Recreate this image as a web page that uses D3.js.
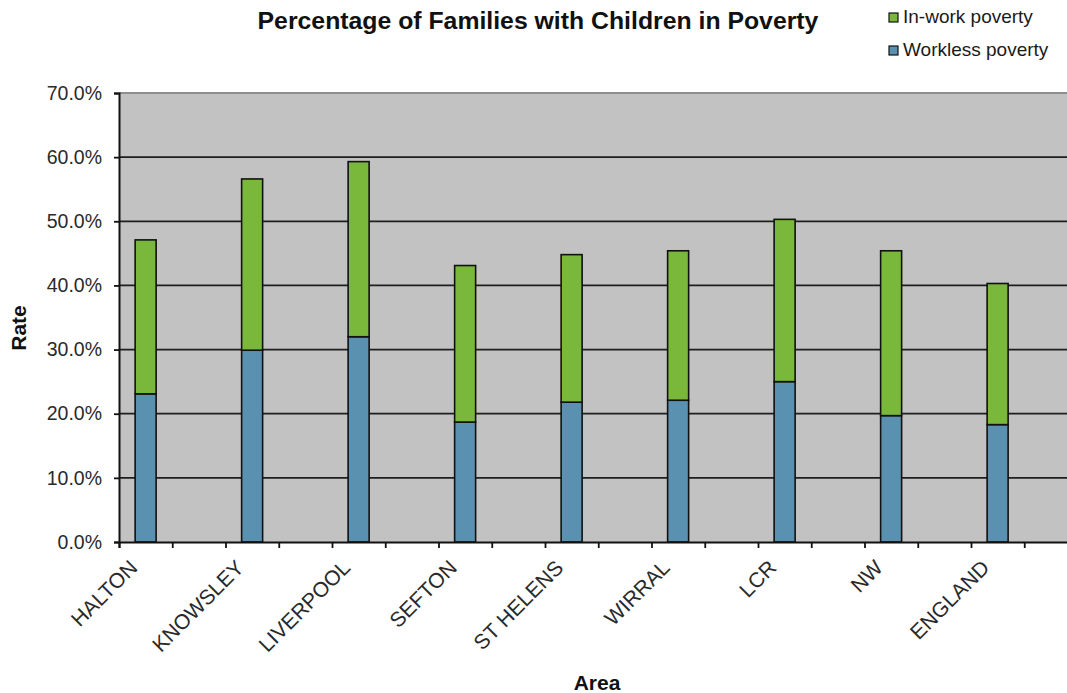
<!DOCTYPE html>
<html>
<head>
<meta charset="utf-8">
<script src="https://cdn.jsdelivr.net/npm/d3@7"></script>
<style>
  html, body { margin: 0; padding: 0; background: #fff; }
  svg { display: block; font-family: "Liberation Sans", Arial, Helvetica, sans-serif; }
</style>
</head>
<body>
<svg id="chart" width="1067" height="693"></svg>
<script>
// Areas along the x axis
const categories = ["HALTON", "KNOWSLEY", "LIVERPOOL", "SEFTON", "ST HELENS", "WIRRAL", "LCR", "NW", "ENGLAND"];
// Share of families with children in poverty (%), by type
const worklessPoverty = [23.1, 29.9, 32.0, 18.7, 21.8, 22.1, 25.0, 19.7, 18.3];
const inWorkPoverty   = [24.0, 26.7, 27.3, 24.4, 23.0, 23.3, 25.3, 25.7, 22.0];
// Y axis ticks (%)
const yTicks = [0, 10, 20, 30, 40, 50, 60, 70];
const seriesNames = ["Workless poverty", "In-work poverty"];
const seriesColors = ["#5b91b0", "#7ab83c"];

const svg = d3.select("#chart");
const margin = { left: 119, top: 93, bottom: 542 };
const slotWidth = 53.25;
const nSlots = categories.length * 2;
const plotRight = margin.left + slotWidth * nSlots;

// Each area occupies two axis slots; the bar sits in the first one
const x = d3.scaleBand().domain(categories).range([margin.left, plotRight]).padding(0);
const slot = d3.scaleLinear().domain([0, nSlots]).range([margin.left, plotRight]);
const y = d3.scaleLinear().domain([0, 70]).range([margin.bottom, margin.top]);
const barWidth = 21;
const barCenter = c => x(c) + x.step() / 4;

// Plot background
svg.append("rect")
  .attr("x", margin.left).attr("y", margin.top)
  .attr("width", plotRight - margin.left).attr("height", margin.bottom - margin.top)
  .attr("fill", "#c2c2c2");

// Top border
svg.append("line")
  .attr("x1", margin.left).attr("x2", plotRight)
  .attr("y1", y(70)).attr("y2", y(70))
  .attr("stroke", "#8e8e8e").attr("stroke-width", 2);

// Horizontal gridlines
svg.append("g").selectAll("line")
  .data(yTicks.filter(t => t > 0 && t < 70))
  .join("line")
  .attr("x1", margin.left).attr("x2", plotRight)
  .attr("y1", d => y(d)).attr("y2", d => y(d))
  .attr("stroke", "#1e1e1e").attr("stroke-width", 1.8);

// Stacked bars
const rows = categories.map((c, i) => ({ area: c, "Workless poverty": worklessPoverty[i], "In-work poverty": inWorkPoverty[i] }));
const stacked = d3.stack().keys(seriesNames)(rows);

svg.append("g").selectAll("g")
  .data(stacked)
  .join("g")
  .attr("fill", (d, i) => seriesColors[i])
  .selectAll("rect")
  .data(d => d)
  .join("rect")
  .attr("x", d => barCenter(d.data.area) - barWidth / 2)
  .attr("width", barWidth)
  .attr("y", d => y(d[1]))
  .attr("height", d => y(d[0]) - y(d[1]))
  .attr("stroke", "#111")
  .attr("stroke-width", 1.6);

// Y axis
const yAxis = svg.append("g")
  .attr("transform", `translate(${margin.left},0)`)
  .call(d3.axisLeft(y).tickValues(yTicks).tickSize(5).tickPadding(12)
    .tickFormat(d => d.toFixed(1) + "%"));
yAxis.select(".domain").attr("stroke", "#111").attr("stroke-width", 2);
yAxis.selectAll(".tick line").attr("stroke", "#111").attr("stroke-width", 1.8);
yAxis.selectAll(".tick text")
  .attr("font-size", 19.5).attr("fill", "#2a2a2a")
  .attr("font-family", "'Liberation Sans', Arial, sans-serif");

// X axis: tick marks at slot boundaries
const xAxis = svg.append("g")
  .attr("transform", `translate(0,${margin.bottom})`)
  .call(d3.axisBottom(slot).tickValues(d3.range(0, nSlots + 1)).tickSize(6).tickFormat(""));
xAxis.select(".domain").attr("stroke", "#111").attr("stroke-width", 2);
xAxis.selectAll(".tick line").attr("stroke", "#111").attr("stroke-width", 1.8);

// Rotated area labels
svg.append("g").selectAll("text")
  .data(categories)
  .join("text")
  .attr("transform", d => `translate(${barCenter(d) - 7},${margin.bottom + 27}) rotate(-45)`)
  .attr("text-anchor", "end")
  .attr("font-size", 21)
  .attr("fill", "#2a2a2a")
  .text(d => d);

// Title
svg.append("text")
  .attr("x", 538).attr("y", 29)
  .attr("text-anchor", "middle")
  .attr("font-size", 24.8).attr("font-weight", "bold").attr("fill", "#111")
  .text("Percentage of Families with Children in Poverty");

// Axis titles
svg.append("text")
  .attr("x", 597).attr("y", 690)
  .attr("text-anchor", "middle")
  .attr("font-size", 21).attr("font-weight", "bold").attr("fill", "#111")
  .text("Area");

svg.append("text")
  .attr("transform", "translate(26,328) rotate(-90)")
  .attr("text-anchor", "middle")
  .attr("font-size", 21).attr("font-weight", "bold").attr("fill", "#111")
  .text("Rate");

// Legend
const legendItems = [
  { name: "In-work poverty", color: seriesColors[1], y: 17 },
  { name: "Workless poverty", color: seriesColors[0], y: 50 }
];
const legend = svg.append("g").selectAll("g")
  .data(legendItems)
  .join("g")
  .attr("transform", d => `translate(889,${d.y})`);
legend.append("rect")
  .attr("x", 0).attr("y", -4).attr("width", 9).attr("height", 9)
  .attr("fill", d => d.color).attr("stroke", "#111").attr("stroke-width", 1.2);
legend.append("text")
  .attr("x", 14).attr("y", 6)
  .attr("font-size", 19).attr("fill", "#1a1a1a")
  .text(d => d.name);
</script>
</body>
</html>
